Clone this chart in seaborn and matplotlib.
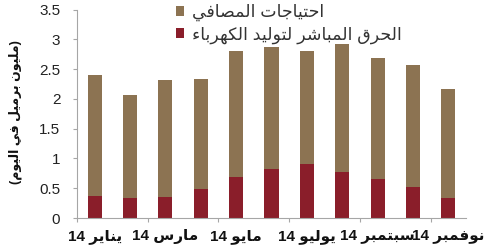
import numpy as np
import pandas as pd
import matplotlib
matplotlib.use("Agg")
import matplotlib.pyplot as plt
import seaborn as sns

# ---------------- data ----------------
months = ["يناير 14", "فبراير 14", "مارس 14", "أبريل 14", "مايو 14", "يونيو 14",
          "يوليو 14", "أغسطس 14", "سبتمبر 14", "أكتوبر 14", "نوفمبر 14"]
refinery = [2.03, 1.72, 1.96, 1.85, 2.12, 2.05, 1.91, 2.15, 2.03, 2.05, 1.82]
direct_burn = [0.37, 0.34, 0.36, 0.48, 0.68, 0.82, 0.90, 0.77, 0.65, 0.52, 0.34]
series_names = ["احتياجات المصافي", "الحرق المباشر لتوليد الكهرباء"]
y_label = "(مليون برميل في اليوم)"
y_ticks = [0, 0.5, 1, 1.5, 2, 2.5, 3, 3.5]

# ------------- Arabic shaping (presentation forms + visual order) -------------
_AR = {
    "\u0621": (0xFE80, 0), "\u0622": (0xFE81, 1), "\u0623": (0xFE83, 1),
    "\u0624": (0xFE85, 1), "\u0625": (0xFE87, 1), "\u0626": (0xFE89, 2),
    "\u0627": (0xFE8D, 1), "\u0628": (0xFE8F, 2), "\u0629": (0xFE93, 1),
    "\u062A": (0xFE95, 2), "\u062B": (0xFE99, 2), "\u062C": (0xFE9D, 2),
    "\u062D": (0xFEA1, 2), "\u062E": (0xFEA5, 2), "\u062F": (0xFEA9, 1),
    "\u0630": (0xFEAB, 1), "\u0631": (0xFEAD, 1), "\u0632": (0xFEAF, 1),
    "\u0633": (0xFEB1, 2), "\u0634": (0xFEB5, 2), "\u0635": (0xFEB9, 2),
    "\u0636": (0xFEBD, 2), "\u0637": (0xFEC1, 2), "\u0638": (0xFEC5, 2),
    "\u0639": (0xFEC9, 2), "\u063A": (0xFECD, 2), "\u0641": (0xFED1, 2),
    "\u0642": (0xFED5, 2), "\u0643": (0xFED9, 2), "\u0644": (0xFEDD, 2),
    "\u0645": (0xFEE1, 2), "\u0646": (0xFEE5, 2), "\u0647": (0xFEE9, 2),
    "\u0648": (0xFEED, 1), "\u0649": (0xFEEF, 1), "\u064A": (0xFEF1, 2),
}
_MIRROR = {"(": ")", ")": "("}


def shape(text):
    out = []
    for i, c in enumerate(text):
        if c not in _AR:
            out.append(c)
            continue
        base, kind = _AR[c]
        prev = text[i - 1] if i > 0 else None
        nxt = text[i + 1] if i + 1 < len(text) else None
        cp = kind > 0 and prev in _AR and _AR[prev][1] == 2
        cn = kind == 2 and nxt in _AR and _AR[nxt][1] > 0
        if kind == 0:
            out.append(chr(base))
        elif cp and cn:
            out.append(chr(base + 3))
        elif cp:
            out.append(chr(base + 1))
        elif cn:
            out.append(chr(base + 2))
        else:
            out.append(chr(base))
    s = "".join(out)
    # visual order: reverse, keep digit runs left-to-right
    tokens, cur, isdig = [], "", None
    for c in s:
        d = c.isdigit() or (c == "." and isdig)
        if isdig is None or d == isdig:
            cur += c
        else:
            tokens.append((cur, isdig))
            cur = c
        isdig = d
    if cur:
        tokens.append((cur, isdig))
    vis = []
    for tok, d in reversed(tokens):
        if d:
            vis.append(tok)
        else:
            vis.append("".join(_MIRROR.get(ch, ch) for ch in reversed(tok)))
    return "".join(vis)


# ---------------- plot ----------------
sns.set_style("white")
plt.rcParams["font.family"] = ["Liberation Sans", "DejaVu Sans"]

brown = "#8C7352"
red = "#8A1E2A"
grey = "#A6A6A6"

total = [r + d for r, d in zip(refinery, direct_burn)]
df = pd.DataFrame({"month": months, "total": total, "direct": direct_burn})

fig = plt.figure(figsize=(5, 2.5), dpi=100)
ax = fig.add_axes([0.154, 0.128, 0.778, 0.834])

sns.barplot(data=df, x="month", y="total", color=brown, saturation=1,
            width=0.4, ax=ax, label=shape(series_names[0]), linewidth=0)
sns.barplot(data=df, x="month", y="direct", color=red, saturation=1,
            width=0.4, ax=ax, label=shape(series_names[1]), linewidth=0)

ax.set_ylim(0, 3.5)
ax.set_xlim(-0.5, 10.5)
ax.set_yticks(y_ticks)
ax.set_yticklabels(["%g" % v for v in y_ticks])
ax.set_xticks(range(0, len(months), 2))
ax.set_xticklabels([shape(m) for m in months[::2]], fontweight="bold")
ax.set_xticks(np.arange(-0.5, len(months) - 0.5, 2), minor=True)
ax.set_xlabel("")
ax.set_ylabel(shape(y_label), fontsize=9, fontweight="bold", color="#111111")
ax.yaxis.set_label_coords(-0.141, 0.51)

for s in ["top", "right"]:
    ax.spines[s].set_visible(False)
for s in ["left", "bottom"]:
    ax.spines[s].set_color(grey)
    ax.spines[s].set_linewidth(0.8)

ax.tick_params(axis="y", which="major", direction="out", length=3, width=0.8,
               color=grey, labelsize=11, pad=9, labelcolor="#222222", left=True)
ax.tick_params(axis="x", which="major", length=0, labelsize=11, pad=8,
               labelcolor="#111111")
ax.tick_params(axis="x", which="minor", direction="out", length=3, width=0.8,
               color=grey, bottom=True)

handles, labels = ax.get_legend_handles_labels()
leg = ax.legend(handles, labels, loc="upper left", frameon=False,
                bbox_to_anchor=(174 / 500, 1 - 2 / 250),
                bbox_transform=fig.transFigure, borderaxespad=0, borderpad=0.1,
                handlelength=0.5, handleheight=0.5, handletextpad=0.45,
                labelspacing=0.3, fontsize=12.5, labelcolor="#333333")

fig.savefig("out.png", dpi=100)
